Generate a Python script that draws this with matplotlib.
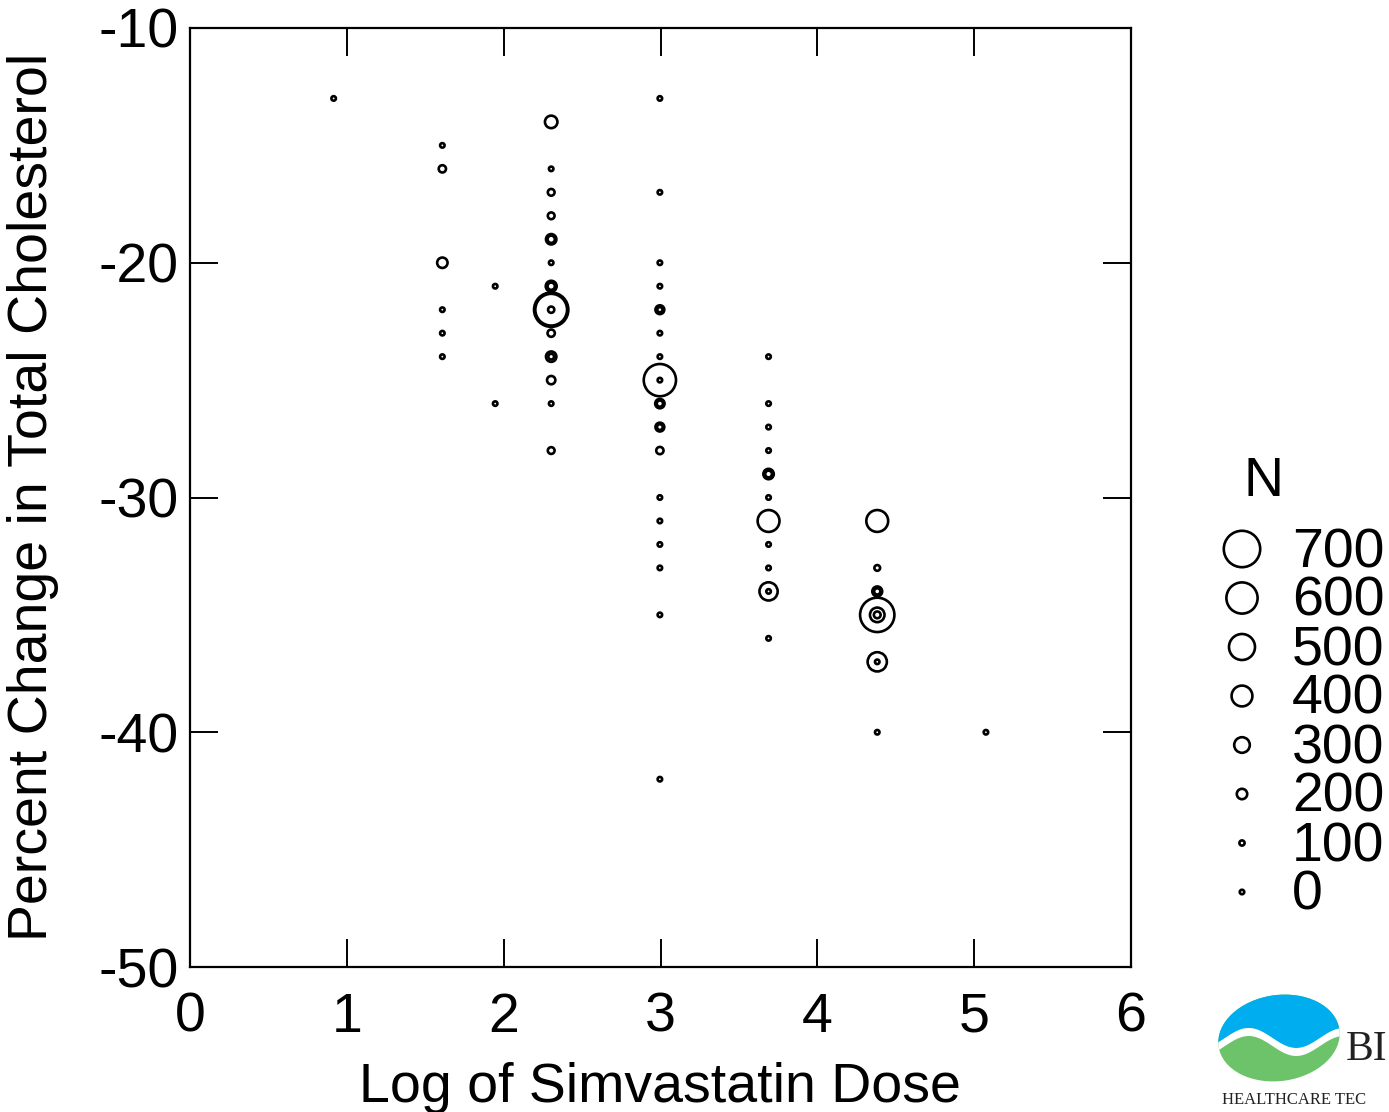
import numpy as np
import matplotlib.pyplot as plt
from matplotlib.patches import Ellipse, Polygon

plt.rcParams['font.family'] = ['Liberation Sans', 'DejaVu Sans']
plt.rcParams['axes.unicode_minus'] = False

# log dose, percent change, number of subjects
log_dose = [0.916,
            1.609, 1.609, 1.609, 1.609, 1.609, 1.609,
            1.946, 1.946,
            2.303, 2.303, 2.303, 2.303, 2.303, 2.303, 2.303, 2.303, 2.303,
            2.303, 2.303, 2.303, 2.303, 2.303, 2.303, 2.303, 2.303, 2.303,
            2.996, 2.996, 2.996, 2.996, 2.996, 2.996, 2.996, 2.996, 2.996,
            2.996, 2.996, 2.996, 2.996, 2.996, 2.996, 2.996, 2.996, 2.996,
            2.996, 2.996, 2.996,
            3.689, 3.689, 3.689, 3.689, 3.689, 3.689, 3.689, 3.689, 3.689,
            3.689, 3.689, 3.689, 3.689,
            4.382, 4.382, 4.382, 4.382, 4.382, 4.382, 4.382, 4.382, 4.382,
            4.382,
            5.075]
pct_change = [-13,
              -15, -16, -20, -22, -23, -24,
              -21, -26,
              -14, -16, -17, -18, -19, -19, -20, -21, -21,
              -22, -22, -22, -23, -24, -24, -25, -26, -28,
              -13, -17, -20, -21, -22, -22, -23, -24, -25,
              -25, -26, -26, -27, -27, -28, -30, -31, -32,
              -33, -35, -42,
              -24, -26, -27, -28, -29, -29, -30, -31, -32,
              -33, -34, -34, -36,
              -31, -33, -34, -34, -35, -35, -35, -37, -37,
              -40,
              -40]
n_subj = [60,
          60, 140, 200, 70, 70, 60,
          60, 60,
          240, 60, 130, 130, 200, 140, 60, 210, 140,
          660, 610, 120, 140, 200, 110, 160, 60, 130,
          60, 60, 60, 60, 170, 100, 60, 60, 620,
          60, 180, 120, 170, 110, 140, 60, 60, 70,
          70, 60, 70,
          60, 60, 70, 70, 200, 130, 60, 420, 70,
          70, 350, 60, 60,
          420, 110, 190, 120, 660, 280, 130, 370, 60,
          60,
          60]

legend_n = [700, 600, 500, 400, 300, 200, 100, 0]
x_ticks = [0, 1, 2, 3, 4, 5, 6]
y_ticks = [-10, -20, -30, -40, -50]

W, H, DPI = 1389, 1112, 100
PT = 72 / DPI


def msize(n):
    d_px = np.maximum(4.5, 0.052 * np.asarray(n, dtype=float))
    return (d_px * PT) ** 2


fig = plt.figure(figsize=(W / DPI, H / DPI), dpi=DPI)
ax = fig.add_axes([190 / W, 1 - 967 / H, 941 / W, 939 / H])

ax.scatter(log_dose, pct_change, s=msize(n_subj), facecolors='none',
           edgecolors='black', linewidths=1.9, zorder=3)

ax.set_xlim(0, 6)
ax.set_ylim(-50, -10)
ax.set_xticks(x_ticks)
ax.set_yticks(y_ticks)
ax.tick_params(direction='in', length=20, width=1.4, labelsize=40,
               top=True, right=True, color='black')
ax.tick_params(axis='x', pad=18)
ax.tick_params(axis='y', pad=8)
for sp in ax.spines.values():
    sp.set_linewidth(1.6)

fig.text(660 / W, 1 - 1102 / H, 'Log of Simvastatin Dose', fontsize=40,
         ha='center', va='baseline')
fig.text(33 / W, 1 - 497 / H, 'Percent Change in Total Cholesterol',
         fontsize=40, rotation=90, ha='center', va='center')

# overlay in pixel units for the legend and the logo
ov = fig.add_axes([0, 0, 1, 1])
ov.set_xlim(0, W)
ov.set_ylim(H, 0)
ov.axis('off')

rows = 549 + 49 * np.arange(len(legend_n))
ov.scatter([1242] * len(legend_n), rows, s=msize(legend_n), facecolors='none',
           edgecolors='black', linewidths=1.9)
ov.text(1263, 482, 'N', fontsize=40, ha='center', va='center')
for r, n in zip(rows, legend_n):
    ov.text(1292, r + 4, str(n), fontsize=40, ha='left', va='center')

# logo
ell = Ellipse((1279, 1038), 122, 86, angle=-8, facecolor='#6cc36a',
              edgecolor='none')
ov.add_patch(ell)
xs = np.linspace(1210, 1350, 80)
wave = 1042 - 10 * np.sin(2 * np.pi * (xs - 1225) / 95)
blue = Polygon(np.column_stack([np.r_[xs, xs[::-1]],
                                np.r_[wave - 4, np.full(len(xs), 980)]]),
               facecolor='#00aeef', edgecolor='none')
band = Polygon(np.column_stack([np.r_[xs, xs[::-1]],
                                np.r_[wave - 4, (wave + 4)[::-1]]]),
               facecolor='white', edgecolor='none')
for p in (blue, band):
    ov.add_patch(p)
    p.set_clip_path(ell)
ov.text(1346, 1060, 'BI', fontsize=30, family='Liberation Serif',
        color='#222222', ha='left', va='baseline')
ov.text(1222, 1104, 'HEALTHCARE TEC', fontsize=12, family='Liberation Serif',
        color='#222222', ha='left', va='baseline')

fig.savefig('out.png', dpi=DPI)
